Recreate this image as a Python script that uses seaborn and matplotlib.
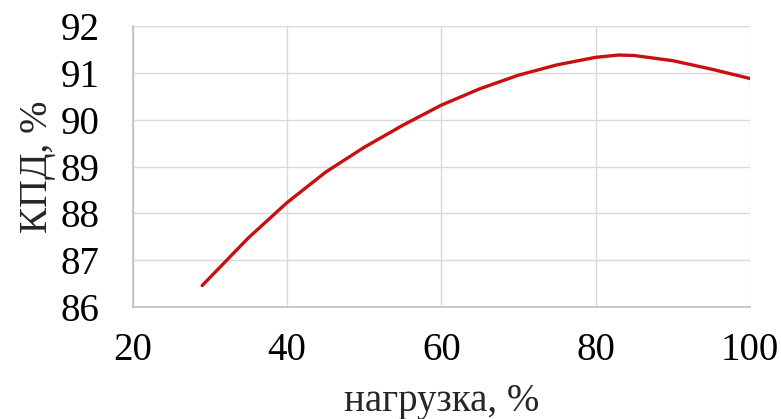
import matplotlib
matplotlib.use('Agg')
import matplotlib.pyplot as plt
import seaborn as sns
import pandas as pd

# load (%) and efficiency (%)
load = [29, 35, 40, 45, 50, 55, 60, 65, 70, 75, 80, 83, 85, 90, 95, 100]
kpd = [86.46, 87.48, 88.23, 88.88, 89.41, 89.88, 90.31, 90.66, 90.95, 91.17,
       91.33, 91.38, 91.37, 91.26, 91.08, 90.88]

x_ticks = [20, 40, 60, 80, 100]
y_ticks = [86, 87, 88, 89, 90, 91, 92]

sns.set_theme(style='white')
plt.rcParams['font.family'] = ['Liberation Serif', 'DejaVu Serif']

df = pd.DataFrame({'load': load, 'kpd': kpd})

fig = plt.figure(figsize=(7.81, 4.19), dpi=100)
ax = fig.add_axes([0.170, 0.267, 0.790, 0.671])

sns.lineplot(data=df, x='load', y='kpd', ax=ax, color='#C81010', linewidth=2.4)
for ln in ax.get_lines():
    ln.set_solid_capstyle('round')
    ln.set_solid_joinstyle('round')

ax.set_xlim(20, 100)
ax.set_ylim(86, 92)
ax.set_xticks(x_ticks)
ax.set_yticks(y_ticks)
ax.grid(True, color='#d9d9d9', linewidth=1.0)
ax.set_axisbelow(True)

for side in ['top', 'right']:
    ax.spines[side].set_visible(False)
for side in ['left', 'bottom']:
    ax.spines[side].set_color('#bfbfbf')
    ax.spines[side].set_linewidth(1.2)

ax.tick_params(axis='both', labelsize=28, colors='black', length=0)
ax.tick_params(axis='x', pad=18)
ax.tick_params(axis='y', pad=24)

ax.set_xlabel('нагрузка, %', fontsize=28, labelpad=10)
ax.set_ylabel('КПД, %', fontsize=28, labelpad=3)

fig.savefig('out.png', dpi=100)
